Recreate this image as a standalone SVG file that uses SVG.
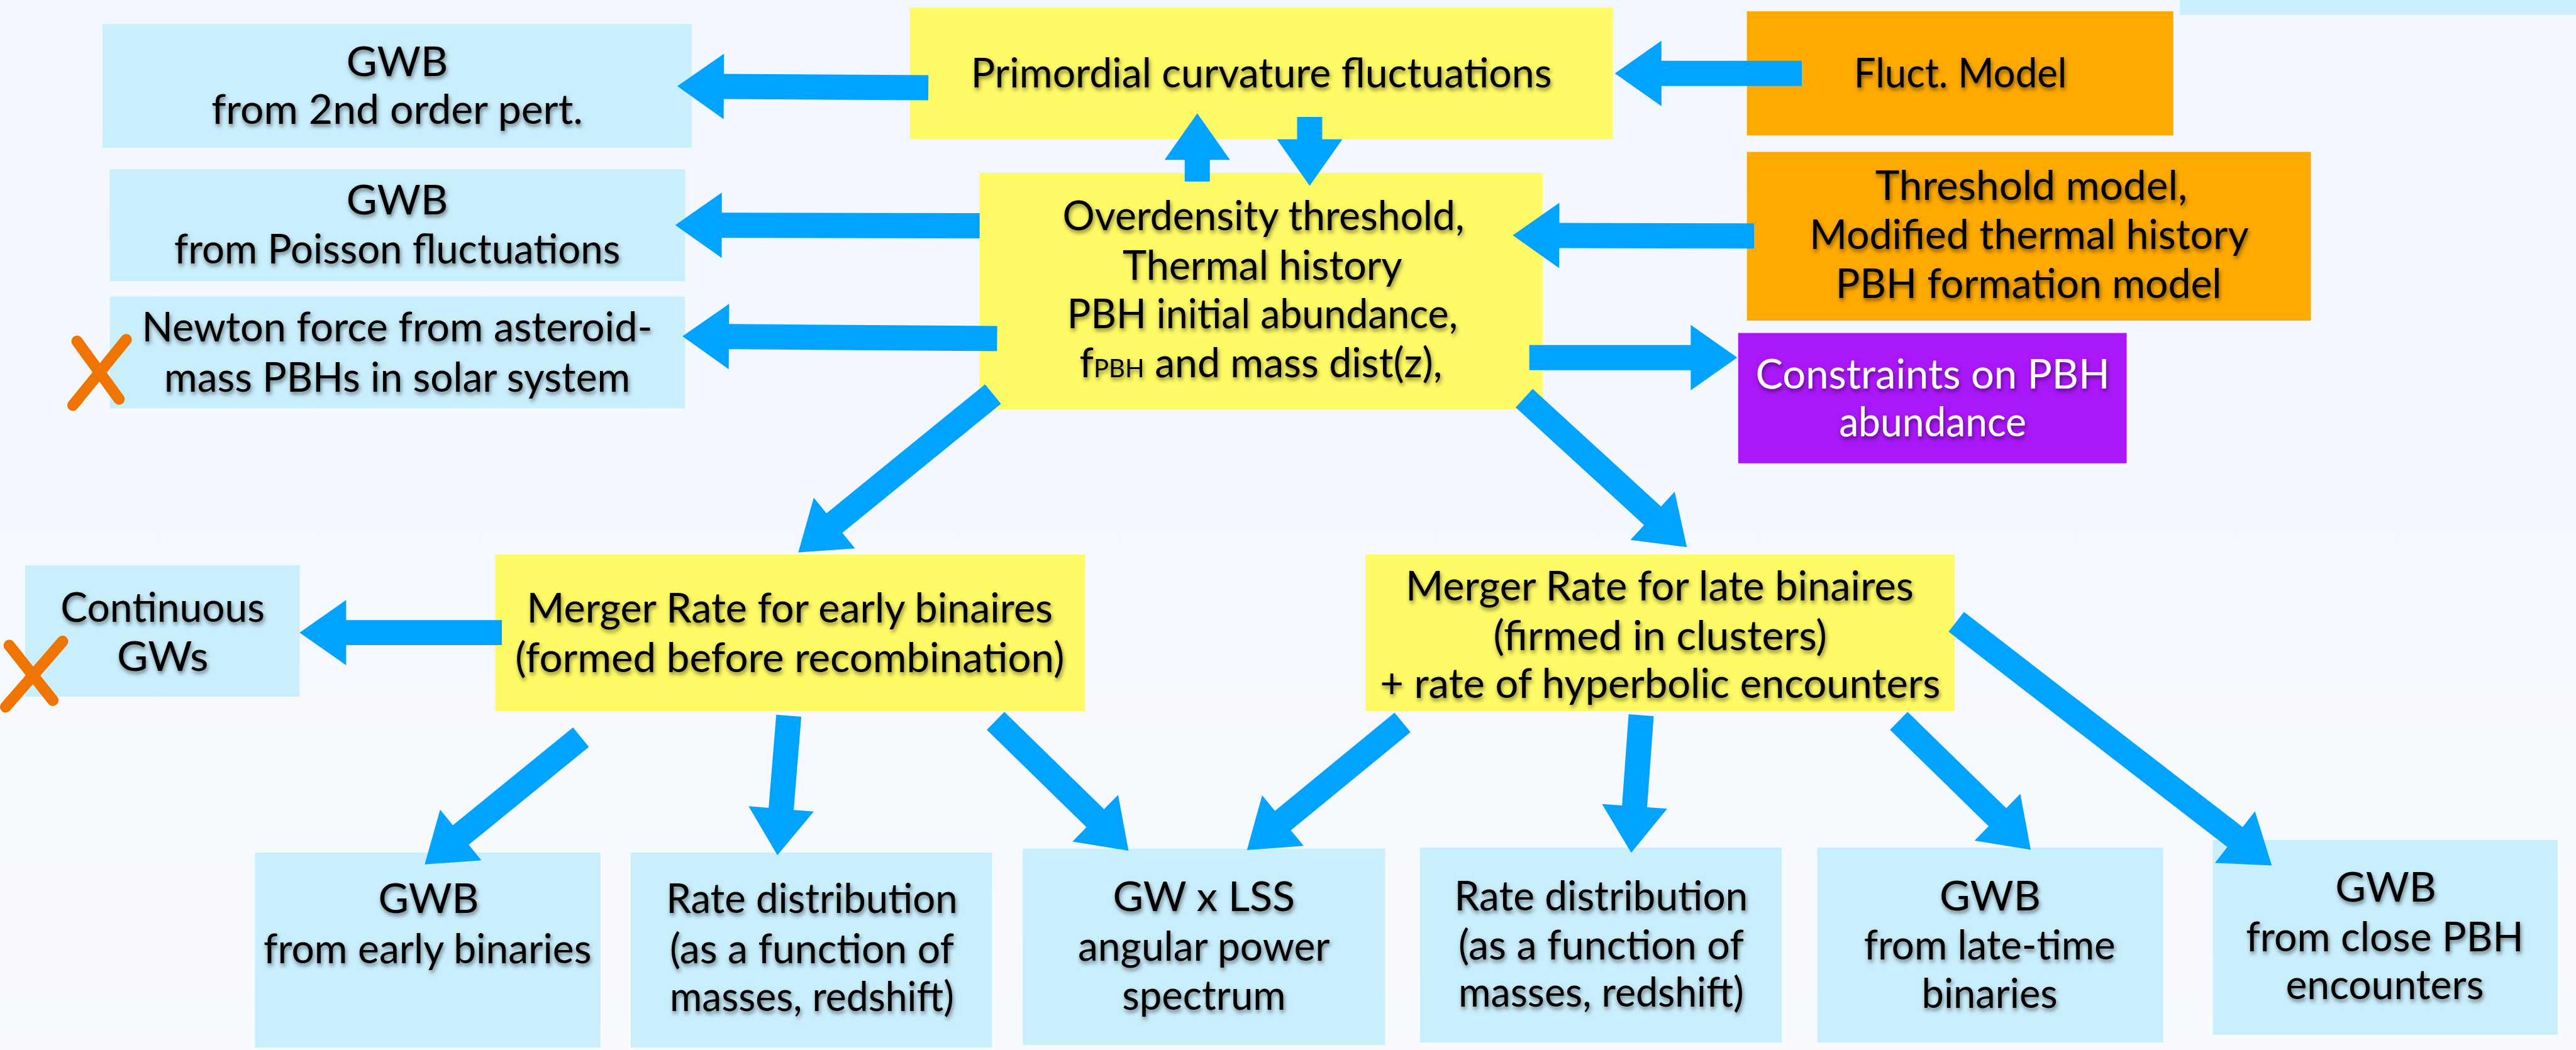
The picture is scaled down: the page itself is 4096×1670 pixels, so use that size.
<svg xmlns="http://www.w3.org/2000/svg" width="4096" height="1670" viewBox="0 0 4096 1670">
<defs>
<linearGradient id="bg" x1="0" y1="0" x2="0" y2="1"><stop offset="0" stop-color="#F2F6FE"/><stop offset="1" stop-color="#F8FAFE"/></linearGradient>
<filter id="sh" x="-10%" y="-30%" width="120%" height="170%"><feDropShadow dx="2" dy="5" stdDeviation="4" flood-color="#000" flood-opacity="0.5"/></filter>
<marker id="ah" markerUnits="strokeWidth" markerWidth="2" markerHeight="3" refX="0" refY="0" orient="auto" overflow="visible"><path d="M-0.05,-1.3 L1.8,0 L-0.05,1.3 Z" fill="#00A3FF"/></marker>
<style>
.lb{fill:#C9EEFC}
.ye{fill:#FFFB66}
.or{fill:#FFAA00}
.pu{fill:#AA17F8}
.t{font-family:Lato,'Liberation Sans',sans-serif;font-size:80px;text-anchor:middle;fill:#000;filter:url(#sh)}
.w{fill:#fff}
.c{stroke:#00A3FF;stroke-width:49;fill:none;marker-end:url(#ah)}
.x{stroke:#F07400;stroke-width:22;stroke-linecap:round;fill:none}
</style>
</defs>
<rect x="0" y="0" width="4096" height="1670" fill="url(#bg)"/>
<g transform="scale(0.816)">
<g id="nodes">
<g id="n_gwb2"><rect class="lb" x="200" y="47" width="1148" height="241"/>
<text class="t" x="774" y="148" textLength="198" lengthAdjust="spacingAndGlyphs">GWB</text>
<text class="t" x="774" y="242" textLength="724" lengthAdjust="spacingAndGlyphs">from 2nd order pert.</text></g>
<g id="n_gwbpois"><rect class="lb" x="214" y="330" width="1121" height="218"/>
<text class="t" x="774" y="418" textLength="198" lengthAdjust="spacingAndGlyphs">GWB</text>
<text class="t" x="774" y="513" textLength="869" lengthAdjust="spacingAndGlyphs">from Poisson fluctuations</text></g>
<g id="n_newton"><rect class="lb" x="214" y="578" width="1121" height="218"/>
<text class="t" x="774" y="666" textLength="995" lengthAdjust="spacingAndGlyphs">Newton force from asteroid-</text>
<text class="t" x="774" y="763" textLength="908" lengthAdjust="spacingAndGlyphs">mass PBHs in solar system</text></g>
<g id="n_prim"><rect class="ye" x="1773" y="15" width="1370" height="256"/>
<text class="t" x="2458" y="170" textLength="1132" lengthAdjust="spacingAndGlyphs">Primordial curvature fluctuations</text></g>
<g id="n_over"><rect class="ye" x="1909" y="337" width="1097" height="461"/>
<text class="t" x="2462" y="448" textLength="783" lengthAdjust="spacingAndGlyphs">Overdensity threshold,</text>
<text class="t" x="2460" y="545" textLength="545" lengthAdjust="spacingAndGlyphs">Thermal history</text>
<text class="t" x="2460" y="640" textLength="761" lengthAdjust="spacingAndGlyphs">PBH initial abundance,</text>
<text class="t" x="2457" y="735" textLength="707" lengthAdjust="spacingAndGlyphs">f<tspan font-size="50">PBH</tspan> and mass dist(z),</text></g>
<g id="n_fluct"><rect class="or" x="3404" y="22" width="831" height="242"/>
<text class="t" x="3820" y="170" textLength="415" lengthAdjust="spacingAndGlyphs">Fluct. Model</text></g>
<g id="n_thresh"><rect class="or" x="3404" y="296" width="1099" height="329"/>
<text class="t" x="3958" y="390" textLength="608" lengthAdjust="spacingAndGlyphs">Threshold model,</text>
<text class="t" x="3954" y="485" textLength="856" lengthAdjust="spacingAndGlyphs">Modified thermal history</text>
<text class="t" x="3953" y="581" textLength="752" lengthAdjust="spacingAndGlyphs">PBH formation model</text></g>
<g id="n_constr"><rect class="pu" x="3387" y="649" width="757" height="254"/>
<text class="t w" x="3766" y="757" textLength="690" lengthAdjust="spacingAndGlyphs">Constraints on PBH</text>
<text class="t w" x="3766" y="850" textLength="365" lengthAdjust="spacingAndGlyphs">abundance</text></g>
<g id="n_partial"><rect class="lb" x="4248" y="-50" width="800" height="79"/></g>
<g id="n_cont"><rect class="lb" x="49" y="1102" width="535" height="256"/>
<text class="t" x="317" y="1212" textLength="398" lengthAdjust="spacingAndGlyphs">Continuous</text>
<text class="t" x="317" y="1307" textLength="178" lengthAdjust="spacingAndGlyphs">GWs</text></g>
<g id="n_early"><rect class="ye" x="965" y="1081" width="1149" height="305"/>
<text class="t" x="1539" y="1213" textLength="1025" lengthAdjust="spacingAndGlyphs">Merger Rate for early binaires</text>
<text class="t" x="1539" y="1310" textLength="1070" lengthAdjust="spacingAndGlyphs">(formed before recombination)</text></g>
<g id="n_late"><rect class="ye" x="2661" y="1081" width="1148" height="305"/>
<text class="t" x="3234" y="1170" textLength="990" lengthAdjust="spacingAndGlyphs">Merger Rate for late binaires</text>
<text class="t" x="3235" y="1267" textLength="650" lengthAdjust="spacingAndGlyphs">(firmed in clusters)</text>
<text class="t" x="3235" y="1360" textLength="1092" lengthAdjust="spacingAndGlyphs">+ rate of hyperbolic encounters</text></g>
<g id="n_gwbearly"><rect class="lb" x="497" y="1662" width="673" height="380"/>
<text class="t" x="835" y="1780" textLength="196" lengthAdjust="spacingAndGlyphs">GWB</text>
<text class="t" x="833" y="1877" textLength="639" lengthAdjust="spacingAndGlyphs">from early binaries</text></g>
<g id="n_rate1"><rect class="lb" x="1229" y="1662" width="704" height="380"/>
<text class="t" x="1582" y="1780" textLength="568" lengthAdjust="spacingAndGlyphs">Rate distribution</text>
<text class="t" x="1582" y="1877" textLength="554" lengthAdjust="spacingAndGlyphs">(as a function of</text>
<text class="t" x="1582" y="1970" textLength="554" lengthAdjust="spacingAndGlyphs">masses, redshift)</text></g>
<g id="n_gwlss"><rect class="lb" x="1993" y="1654" width="706" height="383"/>
<text class="t" x="2346" y="1776" textLength="355" lengthAdjust="spacingAndGlyphs">GW x LSS</text>
<text class="t" x="2346" y="1872" textLength="491" lengthAdjust="spacingAndGlyphs">angular power</text>
<text class="t" x="2346" y="1968" textLength="319" lengthAdjust="spacingAndGlyphs">spectrum</text></g>
<g id="n_rate2"><rect class="lb" x="2767" y="1652" width="705" height="380"/>
<text class="t" x="3120" y="1774" textLength="572" lengthAdjust="spacingAndGlyphs">Rate distribution</text>
<text class="t" x="3120" y="1870" textLength="556" lengthAdjust="spacingAndGlyphs">(as a function of</text>
<text class="t" x="3120" y="1962" textLength="556" lengthAdjust="spacingAndGlyphs">masses, redshift)</text></g>
<g id="n_gwblate"><rect class="lb" x="3541" y="1652" width="674" height="380"/>
<text class="t" x="3878" y="1774" textLength="197" lengthAdjust="spacingAndGlyphs">GWB</text>
<text class="t" x="3877" y="1870" textLength="490" lengthAdjust="spacingAndGlyphs">from late-time</text>
<text class="t" x="3877" y="1964" textLength="265" lengthAdjust="spacingAndGlyphs">binaries</text></g>
<g id="n_gwbclose"><rect class="lb" x="4312" y="1637" width="672" height="380"/>
<text class="t" x="4649" y="1757" textLength="197" lengthAdjust="spacingAndGlyphs">GWB</text>
<text class="t" x="4647" y="1854" textLength="541" lengthAdjust="spacingAndGlyphs">from close PBH</text>
<text class="t" x="4647" y="1947" textLength="386" lengthAdjust="spacingAndGlyphs">encounters</text></g>
</g>
<g id="marks">
<path class="x" d="M150,665 L232,778 M246,662 L142,790"/>
<path class="x" d="M18,1258 L103,1365 M122,1250 L11,1378"/>
</g>
<g id="connectors">
<line class="c" x1="1809" y1="171" x2="1408" y2="168.5"/>
<line class="c" x1="1909" y1="440" x2="1404" y2="439"/>
<line class="c" x1="1943" y1="660" x2="1418" y2="656"/>
<line class="c" x1="2333" y1="354" x2="2333" y2="309"/>
<line class="c" x1="2552" y1="228" x2="2552" y2="274"/>
<line class="c" x1="3511" y1="143" x2="3235" y2="143"/>
<line class="c" x1="3418" y1="460" x2="3036" y2="459"/>
<line class="c" x1="2980" y1="697" x2="3297" y2="697"/>
<line class="c" x1="1935" y1="768" x2="1624" y2="1021"/>
<line class="c" x1="2970" y1="776" x2="3222" y2="1007"/>
<line class="c" x1="978" y1="1233" x2="672" y2="1233"/>
<line class="c" x1="1132" y1="1437" x2="896" y2="1629"/>
<line class="c" x1="1537" y1="1395" x2="1522" y2="1579"/>
<line class="c" x1="1940" y1="1405" x2="2136" y2="1596.5"/>
<line class="c" x1="2733" y1="1408" x2="2498" y2="1601"/>
<line class="c" x1="3198" y1="1394" x2="3185" y2="1574"/>
<line class="c" x1="3700" y1="1405" x2="3894" y2="1594.5"/>
<line class="c" x1="3812" y1="1212" x2="4357" y2="1633"/>
</g>
</g>
</svg>
